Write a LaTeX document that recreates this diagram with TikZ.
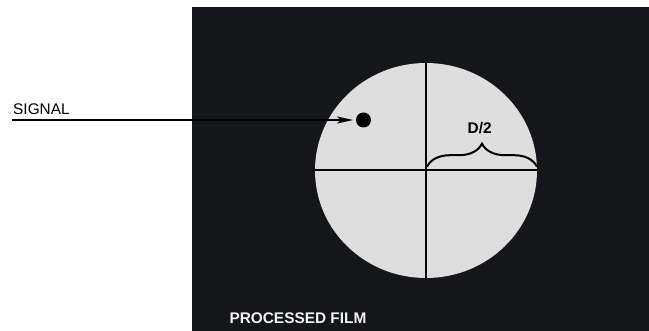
\documentclass[tikz,border=0pt]{standalone}
\usepackage{fontspec}
\setmainfont{Liberation Sans}
\usetikzlibrary{shapes.geometric,arrows.meta,decorations.pathreplacing}
\definecolor{filmbg}{HTML}{151619}
\definecolor{disk}{HTML}{DEDEDE}
\definecolor{filmtext}{HTML}{F2F2F2}
\tikzset{
  lbl/.style={inner sep=0pt,font=\fontsize{15.4}{18}\selectfont},
  blbl/.style={lbl,font=\fontsize{15.4}{18}\selectfont\bfseries},
  crossline/.style={draw=black,line width=2pt},
}
\begin{document}
\begin{tikzpicture}[x=1pt,y=-1pt]
\useasboundingbox (0,0) rectangle (649,331);
\fill[white] (0,0) rectangle (649,331);
\fill[filmbg] (192,7) rectangle (649,331);
\node[ellipse,fill=disk,minimum width=222pt,minimum height=215pt,inner sep=0pt] (film) at (426,170.5) {};
\draw[crossline] (film.north) -- (film.south);
\draw[crossline] (film.west) -- (film.east);
\node[circle,fill=black,minimum size=15pt,inner sep=0pt] (dot) at (363.5,120) {};
\node[lbl,anchor=base west] (signal) at (13,115) {SIGNAL};
\coordinate (sigstart) at (11.7,120);
\draw[line width=1.2pt,-{Stealth[length=16pt,width=7pt,inset=3pt]},shorten >=2.7pt] (sigstart) -- (dot.west);
\coordinate (bl) at (427,166.7);
\coordinate (br) at (537,166.7);
\draw[line width=2pt,decorate,decoration={brace,amplitude=23pt}] (bl) -- (br);
\node[blbl,anchor=base] (half) at (479.7,134) {D/2};
\node[blbl,anchor=base west,text=filmtext] (proc) at (229.3,323.3) {PROCESSED FILM};
\end{tikzpicture}
\end{document}
